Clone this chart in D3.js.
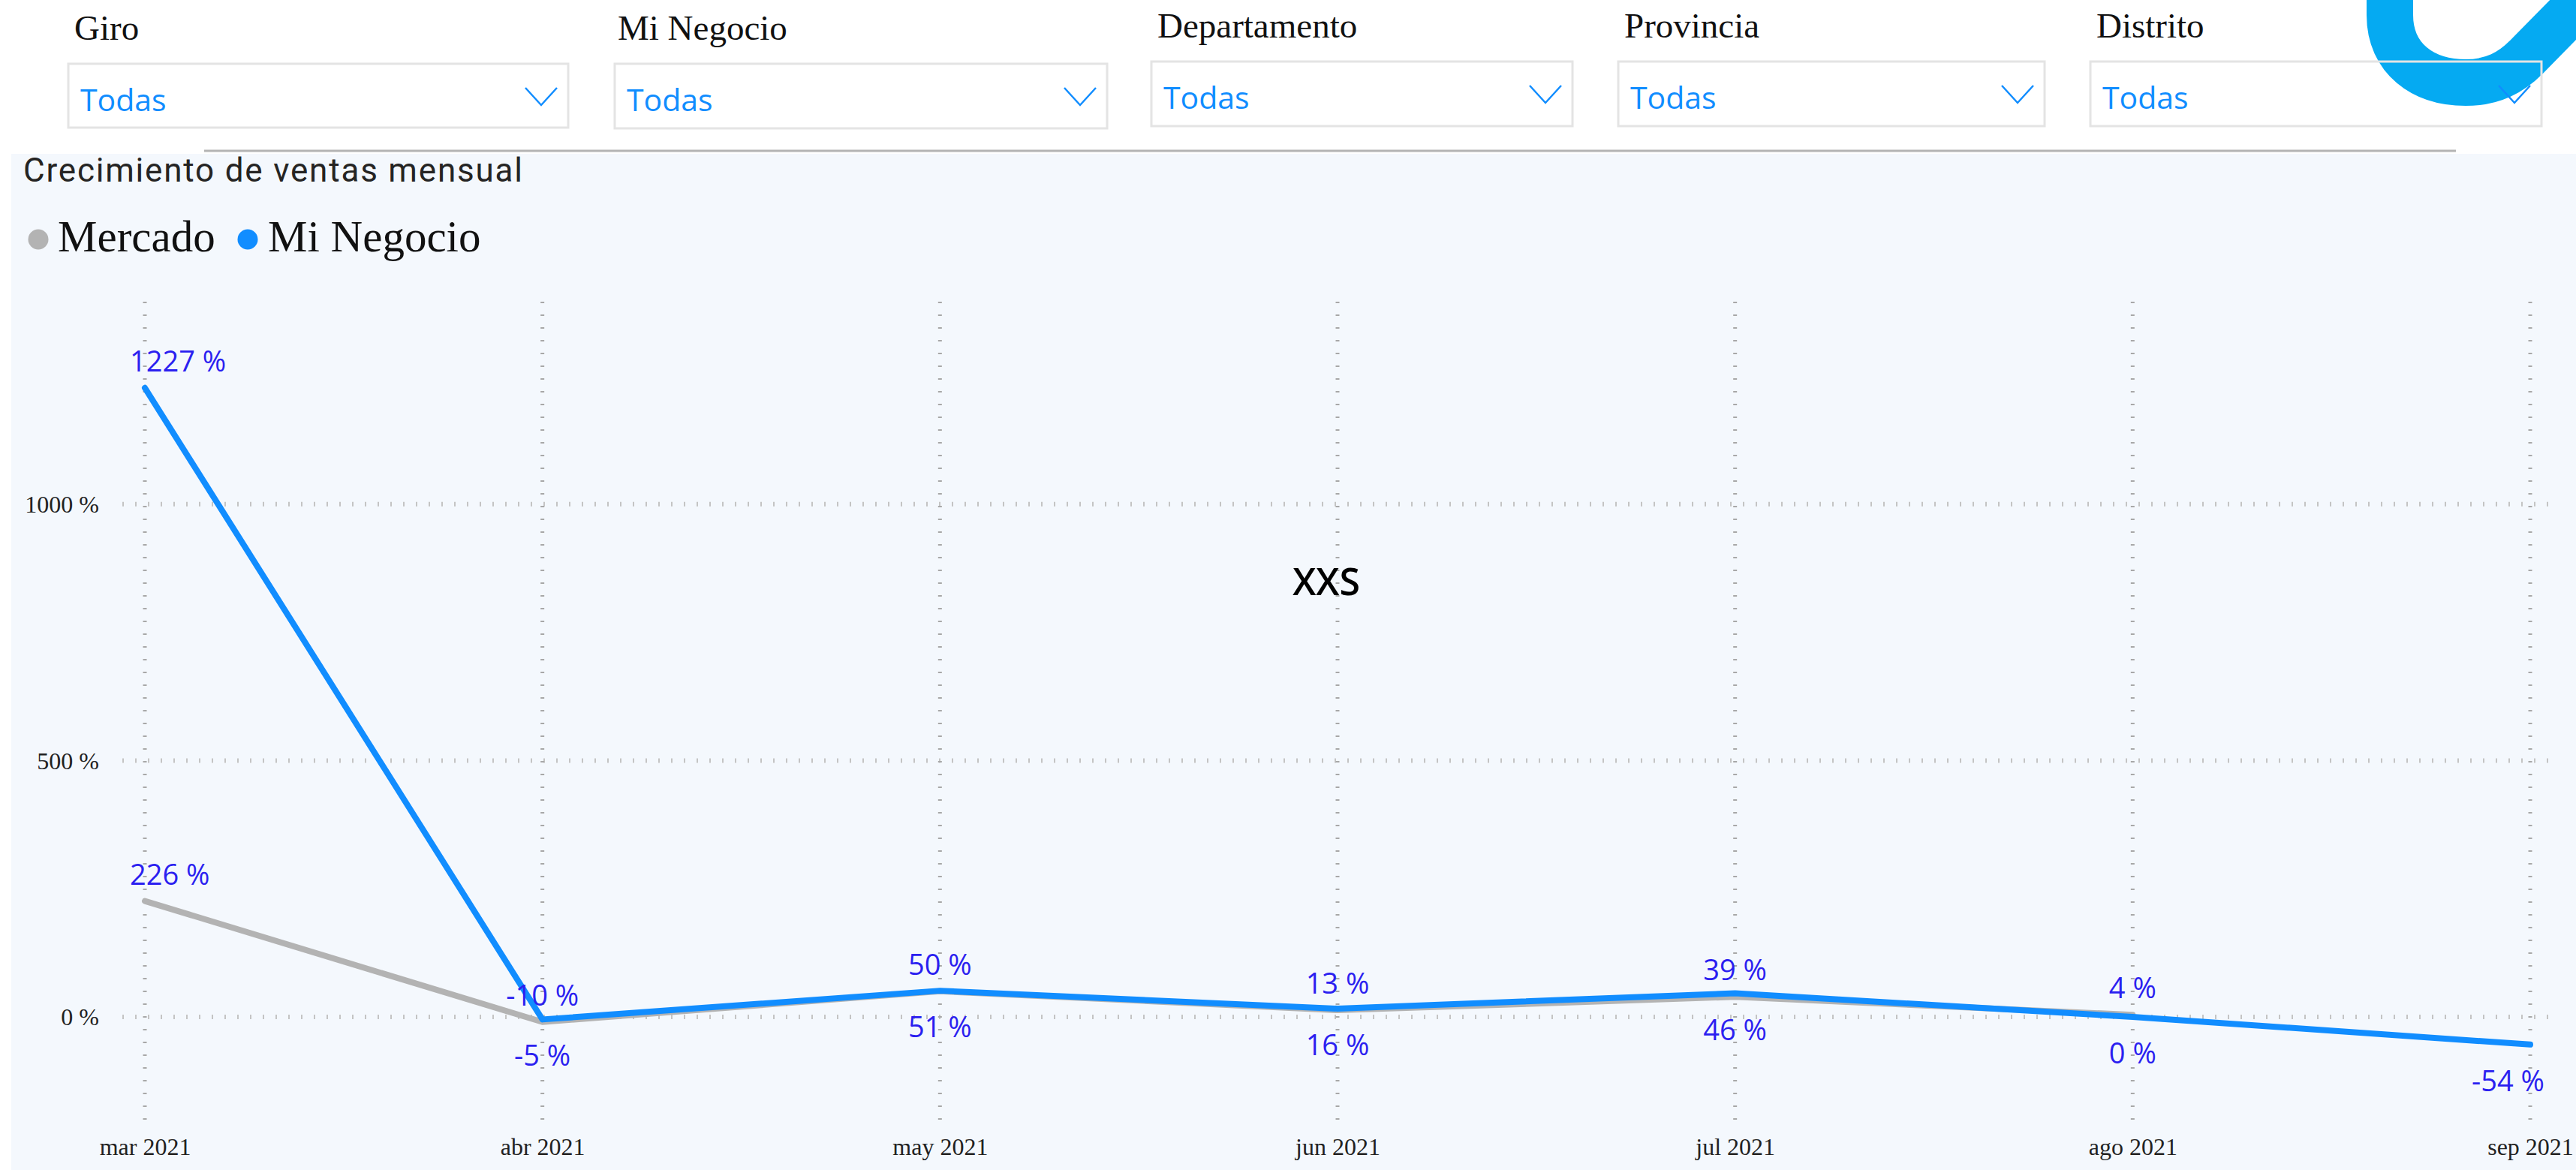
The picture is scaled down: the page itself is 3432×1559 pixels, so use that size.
<!DOCTYPE html>
<html>
<head>
<meta charset="utf-8">
<script src="https://cdn.jsdelivr.net/npm/d3@7"></script>
<style>
  body { margin: 0; background: #fff; }
  svg { display: block; }
</style>
</head>
<body>
<div id="chart"></div>
<script>
// data
const months = ["mar 2021", "abr 2021", "may 2021", "jun 2021", "jul 2021", "ago 2021", "sep 2021"];
const mercado = [226, -10, 50, 13, 39, 4, null];
const miNegocio = [1227, -5, 51, 16, 46, 0, -54];
const yTicks = [0, 500, 1000];
const slicerNames = ["Giro", "Mi Negocio", "Departamento", "Provincia", "Distrito"];
const slicerValue = "Todas";
const seriesNames = ["Mercado", "Mi Negocio"];

const W = 3432, H = 1559;
const serif = "'Liberation Serif', 'Times New Roman', serif";
const sans = "'Open Sans', 'Noto Sans', sans-serif";

const svg = d3.select("#chart")
  .append("svg")
    .attr("width", W)
    .attr("height", H);

svg.append("rect").attr("width", W).attr("height", H).attr("fill", "#fff");

// logo shape at top right (partly cut off)
svg.append("path")
    .attr("d", "M3184,-60 L3184,20 C3184,78 3228,110 3285,110 C3322,110 3346,96 3366,76 L3480,-40")
    .attr("fill", "none")
    .attr("stroke", "#05aaf2")
    .attr("stroke-width", 62);

// slicers
const slicerBoxes = [
  {tx: 99,   x: 91,   x2: 757,  y: 85, y2: 170, ty: 53},
  {tx: 823,  x: 819,  x2: 1475, y: 85, y2: 171, ty: 53},
  {tx: 1542, x: 1534, x2: 2095, y: 82, y2: 168, ty: 50},
  {tx: 2164, x: 2156, x2: 2724, y: 82, y2: 168, ty: 50},
  {tx: 2793, x: 2785, x2: 3386, y: 82, y2: 168, ty: 50}
];

const sl = svg.append("g").selectAll("g")
  .data(slicerNames)
  .join("g");

sl.append("text")
    .attr("x", (d, i) => slicerBoxes[i].tx)
    .attr("y", (d, i) => slicerBoxes[i].ty)
    .attr("font-family", serif)
    .attr("font-size", 47)
    .attr("fill", "#111")
    .text(d => d);

sl.append("rect")
    .attr("x", (d, i) => slicerBoxes[i].x)
    .attr("y", (d, i) => slicerBoxes[i].y)
    .attr("width", (d, i) => slicerBoxes[i].x2 - slicerBoxes[i].x)
    .attr("height", (d, i) => slicerBoxes[i].y2 - slicerBoxes[i].y)
    .attr("fill", "none")
    .attr("stroke", "#e4e4e4")
    .attr("stroke-width", 3);

sl.append("text")
    .attr("x", (d, i) => slicerBoxes[i].x + 16)
    .attr("y", (d, i) => slicerBoxes[i].y + 63)
    .attr("font-family", sans)
    .attr("font-size", 41)
    .attr("fill", "#118dff")
    .text(slicerValue);

sl.append("path")
    .attr("d", (d, i) => {
      const b = slicerBoxes[i], r = b.x2 - 15, t = b.y + 32;
      return `M${r - 42},${t} L${r - 21},${t + 23} L${r},${t}`;
    })
    .attr("fill", "none")
    .attr("stroke", "#118dff")
    .attr("stroke-width", 2.5);

// separator line
svg.append("line")
    .attr("x1", 272).attr("x2", 3272)
    .attr("y1", 201).attr("y2", 201)
    .attr("stroke", "#b4b4b4")
    .attr("stroke-width", 3);

// chart panel
svg.append("rect")
    .attr("x", 15).attr("y", 205)
    .attr("width", W - 15).attr("height", H - 205)
    .attr("fill", "#f4f8fd");

svg.append("text")
    .attr("x", 31).attr("y", 242)
    .attr("font-family", "Roboto, sans-serif")
    .attr("font-size", 44)
    .attr("fill", "#252423")
    .attr("textLength", 665)
    .attr("lengthAdjust", "spacing")
    .text("Crecimiento de ventas mensual");

// legend
const legendPos = [{cx: 51, tx: 77}, {cx: 330, tx: 357}];
const colors = ["#b3b3b3", "#118dff"];
const lg = svg.append("g").selectAll("g").data(seriesNames).join("g");
lg.append("circle")
    .attr("cx", (d, i) => legendPos[i].cx)
    .attr("cy", 319)
    .attr("r", 13.5)
    .attr("fill", (d, i) => colors[i]);
lg.append("text")
    .attr("x", (d, i) => legendPos[i].tx)
    .attr("y", 335)
    .attr("font-family", serif)
    .attr("font-size", 59)
    .attr("fill", "#111")
    .text(d => d);

// scales
const x = d3.scalePoint()
    .domain(months)
    .range([193, 3371]);

const y = d3.scaleLinear()
    .domain([-205, 1398])
    .range([1495, 400]);

const plotLeft = 173, plotRight = 3390;

// gridlines
svg.append("g").selectAll("line")
  .data(yTicks)
  .join("line")
    .attr("x1", 163).attr("x2", 3397)
    .attr("y1", d => y(d)).attr("y2", d => y(d))
    .attr("stroke", "#c4c4c4")
    .attr("stroke-width", 6)
    .attr("stroke-dasharray", "2 15");

svg.append("g").selectAll("line")
  .data(months)
  .join("line")
    .attr("x1", d => x(d)).attr("x2", d => x(d))
    .attr("y1", 402).attr("y2", 1497)
    .attr("stroke", "#a8a8a8")
    .attr("stroke-width", 5)
    .attr("stroke-dasharray", "2 15");

// y axis
const yAxis = svg.append("g")
    .attr("transform", "translate(132,0)")
    .call(d3.axisLeft(y).tickValues(yTicks).tickSize(0).tickPadding(0).tickFormat(d => d + " %"));
yAxis.select(".domain").remove();
yAxis.selectAll("text")
    .attr("font-family", serif)
    .attr("font-size", 32)
    .attr("fill", "#222")
    .attr("dy", "0.34em");

// x axis
const xAxis = svg.append("g")
    .attr("transform", "translate(0,1539)")
    .call(d3.axisBottom(x).tickSize(0).tickPadding(0));
xAxis.select(".domain").remove();
xAxis.selectAll("text")
    .attr("font-family", serif)
    .attr("font-size", 32)
    .attr("fill", "#222")
    .attr("dy", 0);

// center caption
svg.append("text")
    .attr("x", 1767).attr("y", 793)
    .attr("text-anchor", "middle")
    .attr("font-family", sans)
    .attr("font-size", 50)
    .attr("font-weight", 600)
    .attr("fill", "#000")
    .text("XXS");

// lines
const line = d3.line()
    .defined(d => d != null)
    .x((d, i) => x(months[i]))
    .y(d => y(d));

[mercado, miNegocio].forEach((s, k) => {
  svg.append("path")
      .datum(s)
      .attr("d", line)
      .attr("fill", "none")
      .attr("stroke", colors[k])
      .attr("stroke-width", 8)
      .attr("stroke-linejoin", "round")
      .attr("stroke-linecap", "round");
});

// data labels: Mercado above, Mi Negocio below unless far apart
const labels = [];
months.forEach((m, i) => {
  const a = mercado[i], b = miNegocio[i];
  const close = a != null && Math.abs(a - b) < 100;
  if (a != null) labels.push({m, v: a, pos: "above"});
  if (b != null) labels.push({m, v: b, pos: close ? "below" : (a != null && b > a ? "above" : "below")});
});

const lt = svg.append("g").selectAll("text")
  .data(labels)
  .join("text")
    .attr("x", d => x(d.m))
    .attr("y", d => d.pos === "above" ? y(d.v) - 22 : y(d.v) + 62)
    .attr("text-anchor", "middle")
    .attr("font-family", sans)
    .attr("font-size", 38)
    .attr("fill", "#2b1ff0")
    .text(d => d.v + " %");

lt.each(function(d) {
  const w = this.getComputedTextLength();
  let cx = x(d.m);
  if (cx - w / 2 < plotLeft) cx = plotLeft + w / 2;
  if (cx + w / 2 > plotRight) cx = plotRight - w / 2;
  d3.select(this).attr("x", cx);
});
</script>
</body>
</html>
